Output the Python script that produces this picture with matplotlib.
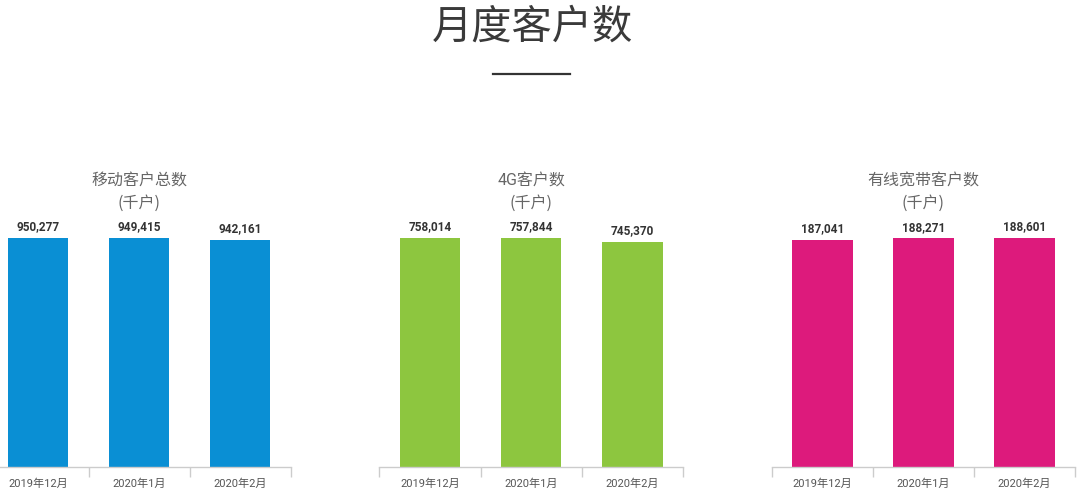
import matplotlib
matplotlib.use('Agg')
import matplotlib.pyplot as plt
from matplotlib.ticker import FixedLocator

plt.rcParams['font.family'] = ['Noto Sans CJK SC', 'DejaVu Sans']
num_font = ['Roboto', 'Noto Sans CJK SC', 'DejaVu Sans']

months = ['2019年12月', '2020年1月', '2020年2月']
mobile = [950277, 949415, 942161]
lte = [758014, 757844, 745370]
broadband = [187041, 188271, 188601]

panels = [
    ('移动客户总数', mobile, '#0A8FD4', -12.6),
    ('4G客户数', lte, '#8DC63F', 379.5),
    ('有线宽带客户数', broadband, '#DD1A7C', 771.7),
]

W, H = 1080, 494
fig = plt.figure(figsize=(W / 100, H / 100), dpi=100)
fig.patch.set_facecolor('white')

fig.text(532 / W, 1 - 27 / H, '月度客户数', ha='center', va='center',
         fontsize=29, color='#3a3a3a', fontweight='light')
fig.add_artist(plt.Line2D([493 / W, 570 / W], [1 - 74 / H, 1 - 74 / H],
                          color='#333333', lw=1.6))

ax_w = 303.3          # px, three categories of ~101 px
ax_h = 240            # px
bar_px = 229          # px height of the tallest bar
base = 467            # px from top

for title, vals, col, left in panels:
    ax = fig.add_axes([left / W, (H - base) / H, ax_w / W, ax_h / H])
    x = range(len(months))
    ax.bar(x, vals, width=0.6, color=col)
    ax.set_xlim(-0.5, 2.5)
    ax.set_ylim(0, max(vals) * ax_h / bar_px)
    for s in ('top', 'right', 'left'):
        ax.spines[s].set_visible(False)
    ax.spines['bottom'].set_color('#cccccc')
    ax.spines['bottom'].set_linewidth(1)
    ax.set_yticks([])
    ax.set_xticks(list(x))
    ax.set_xticklabels(months, fontsize=8, color='#555555', family=num_font)
    ax.tick_params(axis='x', which='major', length=0, pad=8)
    ax.xaxis.set_minor_locator(FixedLocator([-0.5, 0.5, 1.5, 2.5]))
    ax.tick_params(axis='x', which='minor', length=7, color='#cccccc',
                   width=1, direction='out')
    ax.patch.set_alpha(0)
    for i, v in enumerate(vals):
        ax.annotate(f'{v:,}', xy=(i, v), xytext=(0, 8), textcoords='offset points',
                    ha='center', va='center', fontsize=8.5, fontweight='bold',
                    color='#333333', family=num_font)
    cx = (left + ax_w / 2) / W
    fig.text(cx, 1 - 181 / H, title, ha='center', va='center',
             fontsize=11.5, color='#666666', family=num_font)
    fig.text(cx, 1 - 203 / H, '(千户)', ha='center', va='center',
             fontsize=11.5, color='#666666')

fig.savefig('out.png', dpi=100)
